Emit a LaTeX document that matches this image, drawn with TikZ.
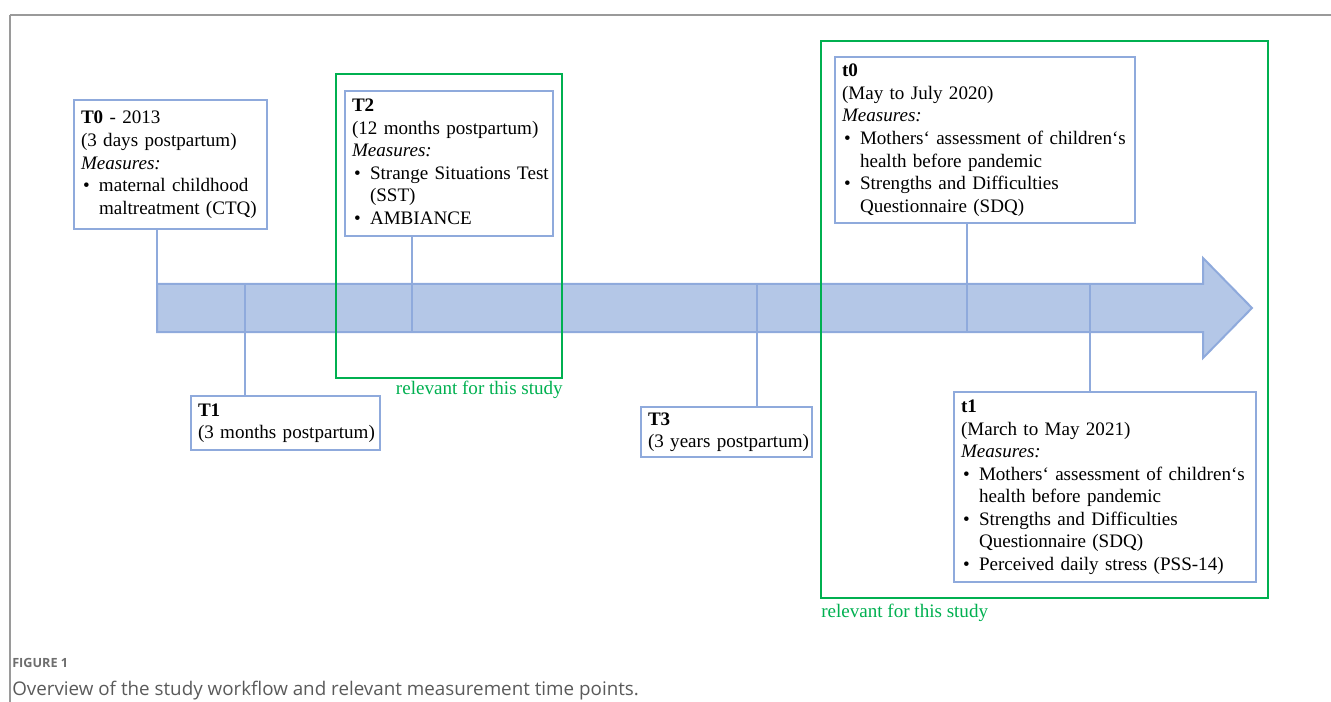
\documentclass[tikz,border=0pt]{standalone}
\usepackage{fontspec}
\setmainfont{Liberation Serif}
\newfontfamily\capfont{Open Sans}
\definecolor{bblue}{HTML}{8FAADC}
\definecolor{bfill}{HTML}{B4C7E7}
\definecolor{sgreen}{HTML}{00B050}
\definecolor{capgray}{HTML}{5A5A5A}
\definecolor{figgray}{HTML}{6E6E6E}
\definecolor{framegray}{HTML}{9A9A9A}
\newcommand\bul{\makebox[13.5pt][l]{\hspace{1.5pt}\textbullet}}
\newcommand\ind{\hspace*{13.5pt}}
\newcommand\boxlines[1]{\begin{tabular}{@{}l@{}}#1\end{tabular}}
\begin{document}
\begin{tikzpicture}[x=0.75pt,y=-0.75pt,
  tbox/.style={draw=bblue, line width=1.8pt, fill=white, anchor=north west,
    align=left, inner xsep=5.25pt, inner ysep=0pt, outer sep=0pt,
    font=\fontsize{14.3pt}{16.9pt}\selectfont},
  link/.style={draw=bblue, line width=1.6pt},
  gbox/.style={draw=sgreen, line width=1.3pt},
  glabel/.style={text=sgreen, inner sep=0pt, font=\fontsize{14.3pt}{16.9pt}\selectfont},
]
\useasboundingbox (0,0) rectangle (1331,702);
% page frame
\draw[framegray, line width=1.5pt] (10,15) -- (1331,15);
\draw[framegray, line width=0.8pt] (10,15) -- (10,702);

% timeline arrow
\filldraw[fill=bfill, draw=bblue, line width=1.5pt, line join=miter]
  (157,284) -- (1203,284) -- (1203,258) -- (1252,308) -- (1203,358) -- (1203,332) -- (157,332) -- cycle;
\coordinate (a0) at (157,284);
\coordinate (a1) at (245,284);
\coordinate (a2) at (412,332);
\coordinate (a3) at (757,284);
\coordinate (a4) at (967,332);
\coordinate (a5) at (1090,284);

% boxes
\node[tbox, text width=134.25pt, minimum height=96.75pt] (T0) at (74,100)
  {\boxlines{\textbf{T0} - 2013\\(3 days postpartum)\\\textit{Measures:}\\\bul maternal childhood\\\ind maltreatment (CTQ)}};
\node[tbox, text width=145.5pt, minimum height=108.75pt] (T2) at (345,91)
  {\boxlines{\textbf{T2}\\(12 months postpartum)\\\textit{Measures:}\\\bul Strange Situations Test\\\ind (SST)\\\bul AMBIANCE}};
\node[tbox, text width=214.5pt, minimum height=124.5pt] (t0) at (835,57)
  {\boxlines{\textbf{t0}\\(May to July 2020)\\\textit{Measures:}\\\bul Mothers\textquoteleft\ assessment of children\textquoteleft s\\\ind health before pandemic\\\bul Strengths and Difficulties\\\ind Questionnaire (SDQ)}};
\node[tbox, text width=131.25pt, minimum height=40.5pt] (T1) at (191,396)
  {\boxlines{\textbf{T1}\\(3 months postpartum)}};
\node[tbox, text width=117.75pt, minimum height=37.5pt] (T3) at (641,407)
  {\boxlines{\textbf{T3}\\(3 years postpartum)}};
\node[tbox, text width=216pt, minimum height=142.5pt] (t1) at (954,392)
  {\boxlines{\textbf{t1}\\(March to May 2021)\\\textit{Measures:}\\\bul Mothers\textquoteleft\ assessment of children\textquoteleft s\\\ind health before pandemic\\\bul Strengths and Difficulties\\\ind Questionnaire (SDQ)\\\bul Perceived daily stress (PSS-14)}};

% connectors
\draw[link] (a0 |- T0.south) -- (a0);
\draw[link] (a1) -- (a1 |- T1.north);
\draw[link] (a2 |- T2.south) -- (a2);
\draw[link] (a3) -- (a3 |- T3.north);
\draw[link] (a4 |- t0.south) -- (a4);
\draw[link] (a5) -- (a5 |- t1.north);

% relevant-for-study frames
\draw[gbox] (336,74) rectangle (562,378);
\draw[gbox] (821,41) rectangle (1268,598);
\node[glabel, anchor=base east] (g1lab) at (563,394) {relevant for this study};
\node[glabel, anchor=base west] (g2lab) at (821,617) {relevant for this study};

% caption
\node[anchor=base west, inner sep=0pt, text=figgray, font=\capfont\bfseries\fontsize{9.5pt}{11pt}\selectfont] (fig) at (12,667) {FIGURE 1};
\node[anchor=base west, inner sep=0pt, text=capgray, font=\capfont\fontsize{14.1pt}{16pt}\selectfont] (cap) at (12,695) {Overview of the study workflow and relevant measurement time points.};
\end{tikzpicture}
\end{document}
